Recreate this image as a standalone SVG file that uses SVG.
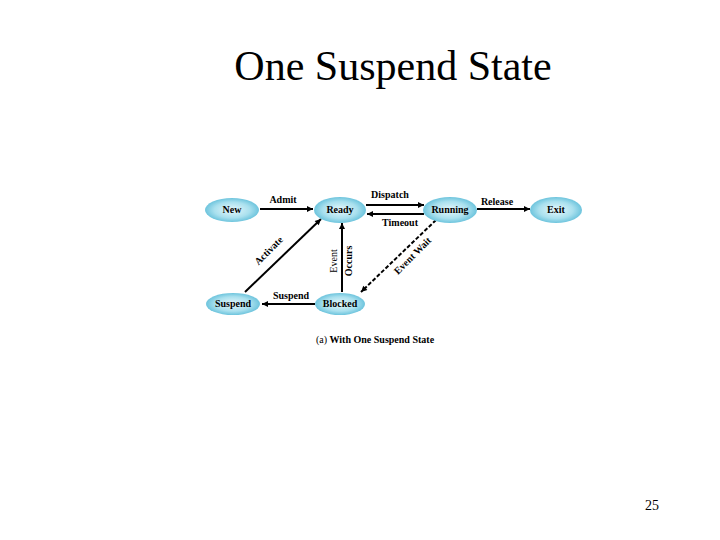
<svg xmlns="http://www.w3.org/2000/svg" width="720" height="540" viewBox="0 0 720 540">
<defs>
<radialGradient id="g" cx="0.5" cy="0.5" r="0.55">
<stop offset="0" stop-color="#e8f8fc"/>
<stop offset="0.6" stop-color="#a9e0ee"/>
<stop offset="1" stop-color="#5cbcd8"/>
</radialGradient>
<marker id="ah" viewBox="0 0 10 10" refX="10" refY="5" markerWidth="8" markerHeight="6" orient="auto" markerUnits="userSpaceOnUse">
<path d="M0,0 L10,5 L0,10 z" fill="#000"/>
</marker>
</defs>
<style>
text{font-family:"Liberation Serif","Times New Roman","DejaVu Serif",serif;fill:#000;text-anchor:middle;}
.n ellipse{fill:url(#g);}
.n text{font-weight:bold;font-size:10px;}
.c line{stroke:#000;stroke-width:2;marker-end:url(#ah);}
.l{font-weight:bold;font-size:10px;}
</style>
<rect width="720" height="540" fill="#fff"/>
<text x="393" y="80" style="font-size:42px">One Suspend State</text>
<g class="c">
<line x1="260" y1="209" x2="313" y2="209"/>
<line x1="366" y1="205" x2="424" y2="205"/>
<line x1="424" y1="214" x2="367" y2="214"/>
<line x1="477" y1="209" x2="530" y2="209"/>
<line x1="342" y1="292" x2="342" y2="223"/>
<line x1="436" y1="220" x2="361" y2="292" stroke-dasharray="4,2"/>
<line x1="315" y1="304" x2="262" y2="304"/>
<line x1="245" y1="292" x2="321" y2="219"/>
</g>
<text class="l" x="283" y="203">Admit</text>
<text class="l" x="390" y="198">Dispatch</text>
<text class="l" x="400" y="226">Timeout</text>
<text class="l" x="497" y="205">Release</text>
<text class="l" x="291" y="299">Suspend</text>
<text class="l" transform="translate(337,261) rotate(-90)" style="font-weight:normal">Event</text>
<text class="l" transform="translate(352,261) rotate(-90)">Occurs</text>
<text class="l" transform="translate(415,258) rotate(-45)">Event Wait</text>
<text class="l" transform="translate(271,253) rotate(-45)">Activate</text>
<g id="new" class="n"><ellipse cx="232" cy="210" rx="27" ry="12"/><text x="232" y="213">New</text></g>
<g id="ready" class="n"><ellipse cx="340" cy="210" rx="26" ry="13"/><text x="340" y="213">Ready</text></g>
<g id="running" class="n"><ellipse cx="450" cy="210" rx="27" ry="13"/><text x="450" y="213">Running</text></g>
<g id="exit" class="n"><ellipse cx="556" cy="210" rx="26" ry="13"/><text x="556" y="213">Exit</text></g>
<g id="suspend" class="n"><ellipse cx="233" cy="304" rx="27" ry="11"/><text x="233" y="307">Suspend</text></g>
<g id="blocked" class="n"><ellipse cx="340" cy="304" rx="25" ry="11"/><text x="340" y="307">Blocked</text></g>
<text x="375" y="343" style="font-size:10px">(a) <tspan style="font-weight:bold">With One Suspend State</tspan></text>
<text x="652" y="510" style="font-size:14px">25</text>
</svg>
